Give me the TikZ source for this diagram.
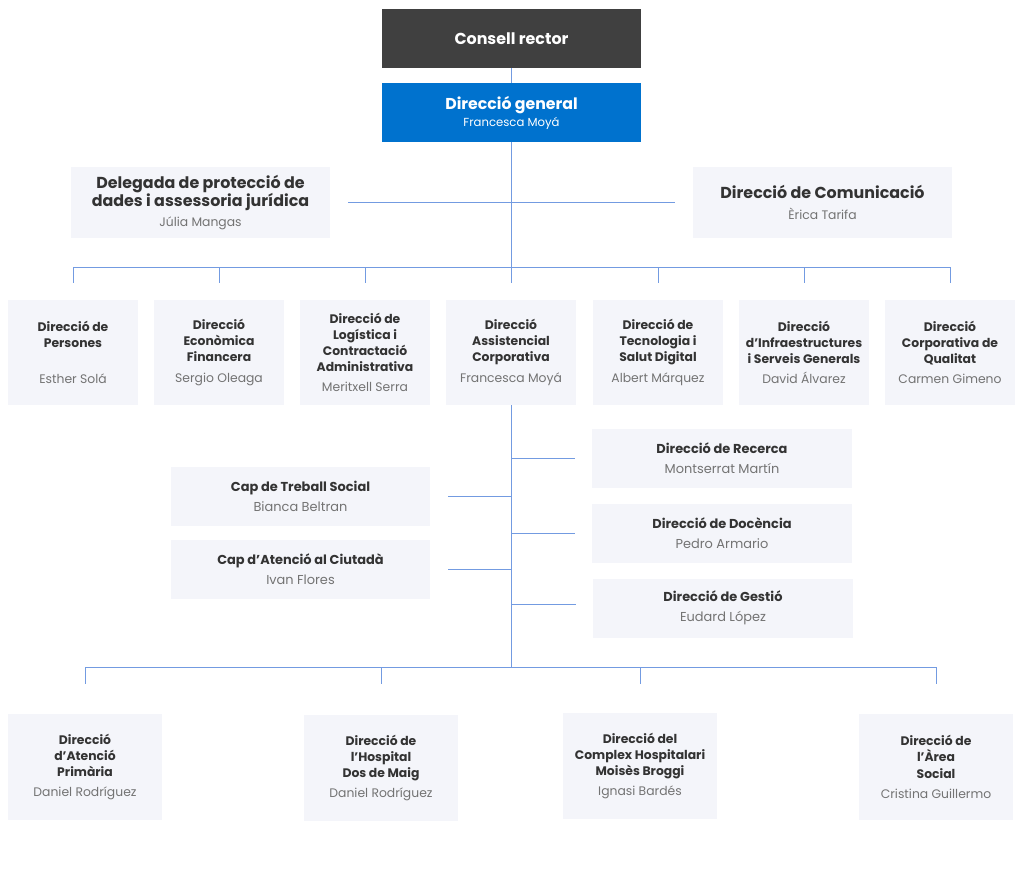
\documentclass[tikz,border=0pt]{standalone}
\usepackage{fontspec}
\setmainfont{Poppins}
\usepackage{tikz}

\definecolor{boxgray}{RGB}{244,245,250}
\definecolor{titlegray}{RGB}{51,51,51}
\definecolor{namegray}{RGB}{115,115,115}
\definecolor{linkblue}{RGB}{115,155,225}
\definecolor{darkbox}{RGB}{64,64,64}
\definecolor{bluebox}{RGB}{0,114,206}

\newcommand{\nm}[1]{{\mdseries\color{namegray}#1}}

\tikzset{
  link/.style={draw=linkblue, line width=0.7pt},
  orgbox/.style={fill=boxgray, text=titlegray, align=center, inner sep=0pt,
    font=\bfseries\fontsize{8.8}{11.4}\selectfont},
  rowbox/.style={orgbox, minimum width=3.25cm, minimum height=2.625cm},
  midbox/.style={orgbox, minimum width=6.475cm, minimum height=1.475cm,
    font=\bfseries\fontsize{9.2}{11.4}\selectfont},
  topbox/.style={orgbox, minimum width=6.475cm, minimum height=1.775cm,
    font=\bfseries\fontsize{11.3}{12.8}\selectfont},
  lowbox/.style={orgbox, minimum width=3.85cm, minimum height=2.65cm},
}

\begin{document}
\begin{tikzpicture}[x=0.025cm, y=-0.025cm]
\useasboundingbox (0,0) rectangle (1024,877);

% top of the chart
\node[orgbox, fill=darkbox, text=white, minimum width=6.475cm, minimum height=1.475cm,
  font=\bfseries\fontsize{11.3}{13}\selectfont] (cr) at (511.5,38.5) {Consell rector};
\node[orgbox, fill=bluebox, text=white, minimum width=6.475cm, minimum height=1.475cm,
  font=\bfseries\fontsize{11.2}{13}\selectfont] (dg) at (511.5,112.5)
  {Direcció general\\[-1pt]{\mdseries\fontsize{8.3}{10}\selectfont Francesca Moyá}};

\node[topbox] (dpd) at (200.5,202.5)
  {Delegada de protecció de\\dades i assessoria jurídica\\[1pt]{\mdseries\color{namegray}\fontsize{8.8}{10}\selectfont Júlia Mangas}};
\node[topbox] (dcom) at (822.5,202.5)
  {Direcció de Comunicació\\[2pt]{\mdseries\color{namegray}\fontsize{8.8}{10}\selectfont Èrica Tarifa}};

% first row of directions
\node[rowbox] (p1) at (73,352.5) {Direcció de\\Persones\\\mbox{}\\[3pt]\nm{Esther Solá}};
\node[rowbox] (p2) at (219,352.5) {Direcció\\Econòmica\\Financera\\[3pt]\nm{Sergio Oleaga}};
\node[rowbox] (p3) at (365,352.5) {Direcció de\\Logística i\\Contractació\\Administrativa\\[3pt]\nm{Meritxell Serra}};
\node[rowbox] (p4) at (511,352.5) {Direcció\\Assistencial\\Corporativa\\[3pt]\nm{Francesca Moyá}};
\node[rowbox] (p5) at (658,352.5) {Direcció de\\Tecnologia i\\Salut Digital\\[3pt]\nm{Albert Márquez}};
\node[rowbox] (p6) at (804,352.5) {Direcció\\d’Infraestructures\\i Serveis Generals\\[3pt]\nm{David Álvarez}};
\node[rowbox] (p7) at (950,352.5) {Direcció\\Corporativa de\\Qualitat\\[3pt]\nm{Carmen Gimeno}};

% under the assistencial direction
\node[midbox] (rec) at (722,458.5) {Direcció de Recerca\\[3pt]\nm{Montserrat Martín}};
\node[midbox] (doc) at (722,533.5) {Direcció de Docència\\[3pt]\nm{Pedro Armario}};
\node[midbox] (ges) at (723,608) {Direcció de Gestió\\[3pt]\nm{Eudard López}};
\node[midbox] (ts) at (300.5,496) {Cap de Treball Social\\[3pt]\nm{Bianca Beltran}};
\node[midbox] (ac) at (300.5,569.5) {Cap d’Atenció al Ciutadà\\[3pt]\nm{Ivan Flores}};

% bottom row
\node[lowbox] (b1) at (85,767) {Direcció\\d’Atenció\\Primària\\[3pt]\nm{Daniel Rodríguez}};
\node[lowbox] (b2) at (381,768) {Direcció de\\l’Hospital\\Dos de Maig\\[3pt]\nm{Daniel Rodríguez}};
\node[lowbox] (b3) at (640,766) {Direcció del\\Complex Hospitalari\\Moisès Broggi\\[3pt]\nm{Ignasi Bardés}};
\node[lowbox] (b4) at (936,767) {Direcció de\\l’Àrea\\Social\\[3pt]\nm{Cristina Guillermo}};

% connectors
\coordinate (bus) at (0,267);
\coordinate (drop) at (0,283);
\coordinate (bus2) at (0,667);
\coordinate (drop2) at (0,684);
\draw[link] (cr) -- (dg);
\draw[link] (dg.south) -- (dg.south |- drop);
\draw[link, shorten <=0.45cm, shorten >=0.43cm] (dpd.east) -- (dcom.west);
\draw[link] (p1 |- bus) -- (p7 |- bus);
\foreach \n in {p1,p2,p3,p5,p6,p7}
  \draw[link] (\n |- bus) -- (\n |- drop);
\draw[link] (p4.south) -- (p4.south |- bus2);
\foreach \n in {rec,doc}
  \draw[link, shorten >=0.43cm] (p4.south |- \n.west) -- (\n.west);
\draw[link, shorten >=0.43cm] ([yshift=0.1cm]p4.south |- ges.west) -- ([yshift=0.1cm]ges.west);
\foreach \n in {ts,ac}
  \draw[link, shorten >=0.43cm] (p4.south |- \n.east) -- (\n.east);
\draw[link] (b1 |- bus2) -- (b4 |- bus2);
\foreach \n in {b1,b2,b3,b4}
  \draw[link] (\n |- bus2) -- (\n |- drop2);
\end{tikzpicture}
\end{document}
